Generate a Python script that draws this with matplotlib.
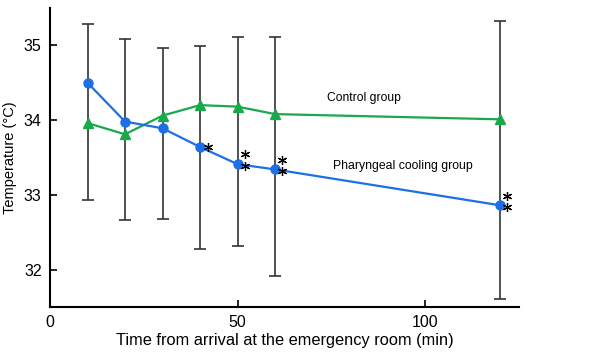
import matplotlib
matplotlib.use('Agg')
import matplotlib.pyplot as plt
import matplotlib.transforms as mtransforms

plt.rcParams['font.family'] = ['Liberation Sans', 'DejaVu Sans']

# time points (min)
minutes = [10, 20, 30, 40, 50, 60, 120]

# mean temperatures
cooling = [34.50, 33.98, 33.89, 33.64, 33.41, 33.34, 32.86]
control = [33.96, 33.81, 34.06, 34.20, 34.18, 34.08, 34.01]

# whisker ends (one bar per time point)
bar_top = [35.29, 35.08, 34.97, 34.99, 35.11, 35.11, 35.32]
bar_bottom = [32.93, 32.66, 32.68, 32.28, 32.31, 31.92, 31.61]

# number of asterisks next to each cooling point
stars = [0, 0, 0, 1, 2, 2, 2]

blue = '#1E6FE6'
green = '#19A84B'

fig, ax = plt.subplots(figsize=(6, 3.61), dpi=100)
fig.subplots_adjust(left=0.0833, right=0.865, bottom=0.1496, top=0.978)

# error bars drawn around the control means
yerr = [[c - b for c, b in zip(control, bar_bottom)],
        [t - c for c, t in zip(control, bar_top)]]
ax.errorbar(minutes, control, yerr=yerr, fmt='none', ecolor='#333333',
            elinewidth=1.2, capsize=4, capthick=1.2, zorder=1)

ax.plot(minutes, control, color=green, marker='^', markersize=7, lw=1.6, zorder=3)
ax.plot(minutes, cooling, color=blue, marker='o', markersize=6.5, lw=1.6, zorder=4)

# asterisks next to significant points
for x, y, n in zip(minutes, cooling, stars):
    if n == 1:
        offs = [(6, 0)]
    elif n == 2:
        offs = [(5, -1.1), (5, 7)]
    else:
        offs = []
    for dx, dy in offs:
        tr = mtransforms.offset_copy(ax.transData, fig=fig, x=dx, y=dy, units='points')
        ax.plot([x], [y], marker=(6, 2, 0), markersize=6.5, color='black',
                mew=0.9, transform=tr, zorder=5)

ax.text(73.9, 34.30, 'Control group', fontsize=8.7, va='center', ha='left')
ax.text(75.5, 33.38, 'Pharyngeal cooling group', fontsize=8.8, va='center', ha='left')

ax.set_xlim(0, 125)
ax.set_ylim(31.5, 35.5)
ax.set_xticks([0, 50, 100])
ax.set_yticks([32, 33, 34, 35])

for side in ['top', 'right']:
    ax.spines[side].set_visible(False)
for side in ['left', 'bottom']:
    ax.spines[side].set_linewidth(1.5)

ax.tick_params(direction='in', length=5, width=1.2, labelsize=11.5, pad=6)

ax.set_xlabel('Time from arrival at the emergency room (min)', fontsize=11.8, labelpad=2)
ax.set_ylabel('Temperature (\u00b0C)', fontsize=10.5, labelpad=5)

fig.savefig('out.png', dpi=100)
